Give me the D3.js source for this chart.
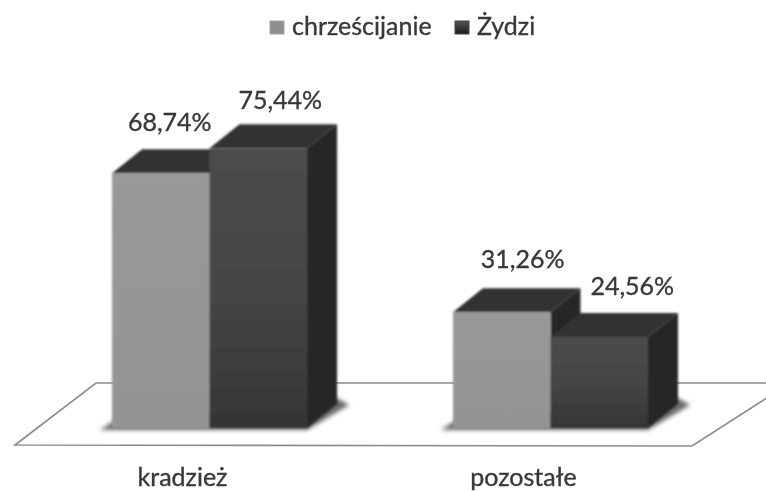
<!DOCTYPE html>
<html lang="en">
  <head>
    <meta charset="UTF-8" />
    <script src="https://cdn.jsdelivr.net/npm/d3@7"></script>
    <style>
      html, body { margin: 0; padding: 0; background: #fff; }
      svg { display: block; }
      text { font-family: Lato, "Open Sans", sans-serif; fill: #383838; stroke: #383838; stroke-width: 0.35px; }
    </style>
  </head>
  <body>
    <div id="fig"></div>
    <script>
      const categories = ["kradzież", "pozostałe"];
      const seriesNames = ["chrześcijanie", "Żydzi"];
      const chrzescijanie = [68.74, 31.26];
      const zydzi = [75.44, 24.56];

      const width = 766;
      const height = 491;
      const baseY = 428;
      const depth = { x: 30, y: -24 };
      // label placement relative to the bar front, order follows rows below
      const labelDx = [9, 22, 21, 33];
      const labelDy = [-42, -39, -44, -42];

      const svg = d3.select("#fig").append("svg")
        .attr("width", width)
        .attr("height", height);

      const defs = svg.append("defs");
      const blur = (id, s) => defs.append("filter").attr("id", id)
        .attr("x", "-20%").attr("y", "-20%").attr("width", "140%").attr("height", "140%")
        .append("feGaussianBlur").attr("stdDeviation", s);
      blur("soft", 0.8);
      blur("shadow", 2);
      blur("txt", 0.6);

      const grad = (id, stops) => {
        const g = defs.append("linearGradient").attr("id", id)
          .attr("x1", 0).attr("x2", 0).attr("y1", 0).attr("y2", 1);
        stops.forEach(([o, c]) => g.append("stop").attr("offset", o).attr("stop-color", c));
      };
      grad("front-dark", [[0, "#4c4c4c"], [0.55, "#444444"], [1, "#353535"]]);
      grad("front-light", [[0, "#999999"], [1, "#949494"]]);
      grad("swatch-dark", [[0, "#555555"], [1, "#1c1c1c"]]);

      const x = d3.scaleBand().domain(categories).range([112, 648]).paddingInner(0.428);
      const xInner = d3.scaleBand().domain(seriesNames).range([0, x.bandwidth()]);
      const y = d3.scaleLinear().domain([0, 75]).range([baseY, baseY - 278]);

      const rows = categories.flatMap((c, i) => [
        { cat: c, series: seriesNames[0], value: chrzescijanie[i], front: "url(#front-light)" },
        { cat: c, series: seriesNames[1], value: zydzi[i], front: "url(#front-dark)" },
      ]);
      const barX = (d) => x(d.cat) + xInner(d.series);
      const bw = xInner.bandwidth();
      const pts = (a) => a.map((p) => p.join(",")).join(" ");

      // floor plane
      svg.append("polygon")
        .attr("points", pts([[15, 445], [96, 383], [790, 383], [692, 446]]))
        .attr("fill", "#fff")
        .attr("stroke", "#8c8c8c")
        .attr("stroke-width", 1.6)
        .attr("filter", "url(#txt)");

      // shadows on the floor
      const shadow = svg.append("g").attr("filter", "url(#shadow)");
      categories.forEach((c) => {
        const l = x(c), r = l + x.bandwidth();
        shadow.append("polygon")
          .attr("points", pts([[l - 12, baseY + 2], [r, baseY + 2], [r + depth.x + 12, baseY + depth.y + 1], [r + depth.x, baseY + depth.y - 6], [l, baseY - 6]]))
          .attr("fill", "#6a6a6a");
      });

      // bars, drawn left to right so each overlaps its left neighbour
      const bars = svg.append("g").attr("filter", "url(#soft)")
        .selectAll("g")
        .data(rows)
        .join("g");

      bars.append("polygon") // top
        .attr("points", (d) => pts([
          [barX(d), y(d.value)],
          [barX(d) + depth.x, y(d.value) + depth.y],
          [barX(d) + bw + depth.x, y(d.value) + depth.y],
          [barX(d) + bw, y(d.value)],
        ]))
        .attr("fill", "#333333");

      bars.append("polygon") // side
        .attr("points", (d) => pts([
          [barX(d) + bw, y(d.value)],
          [barX(d) + bw + depth.x, y(d.value) + depth.y],
          [barX(d) + bw + depth.x, baseY + depth.y],
          [barX(d) + bw, baseY],
        ]))
        .attr("fill", "#282828");

      bars.append("rect") // front
        .attr("x", barX)
        .attr("y", (d) => y(d.value))
        .attr("width", bw)
        .attr("height", (d) => baseY - y(d.value))
        .attr("fill", (d) => d.front);

      // value labels
      svg.append("g").attr("filter", "url(#txt)")
        .selectAll("text")
        .data(rows)
        .join("text")
        .attr("x", (d, i) => barX(d) + bw / 2 + labelDx[i])
        .attr("y", (d, i) => y(d.value) + labelDy[i])
        .attr("text-anchor", "middle")
        .attr("font-size", 25)
        .text((d) => d.value.toFixed(2).replace(".", ",") + "%");

      // category labels
      svg.append("g").attr("filter", "url(#txt)")
        .selectAll("text")
        .data(categories)
        .join("text")
        .attr("x", (c) => x(c) + x.bandwidth() / 2 - 27)
        .attr("y", 486)
        .attr("text-anchor", "middle")
        .attr("font-size", 25)
        .text((c) => c);

      // legend
      const legend = svg.append("g").attr("filter", "url(#txt)");
      const legendX = [270, 455];
      seriesNames.forEach((s, i) => {
        legend.append("rect")
          .attr("x", legendX[i]).attr("y", 21)
          .attr("width", 14).attr("height", 13)
          .attr("fill", i === 0 ? "#8f8f8f" : "url(#swatch-dark)")
          .attr("stroke", i === 0 ? "#a5a5a5" : "#444");
        legend.append("text")
          .attr("x", legendX[i] + 22).attr("y", 35)
          .attr("font-size", 25)
          .text(s);
      });
    </script>
  </body>
</html>
